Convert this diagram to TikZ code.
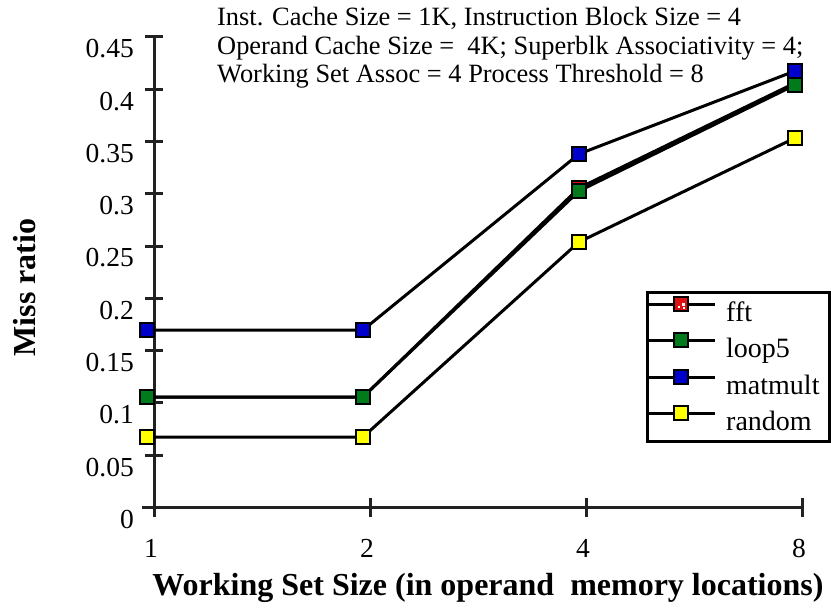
\documentclass[tikz,border=0pt]{standalone}
\usepackage{fontspec}
\setmainfont{Liberation Serif}
\definecolor{axisgray}{HTML}{222222}
\definecolor{mblue}{HTML}{0000CC}
\definecolor{mgreen}{HTML}{007A1A}
\definecolor{myellow}{HTML}{FFFF00}
\definecolor{mred}{HTML}{DD1111}
\begin{document}
\begin{tikzpicture}[x=1pt,y=-1pt,
  axisline/.style={draw=axisgray,line width=3pt},
  series/.style={draw=black,line width=3pt},
  marker/.style={draw=black,line width=1.8pt,minimum size=14.5pt,inner sep=0pt,rectangle},
  bluem/.style={marker,fill=mblue},
  greenm/.style={marker,fill=mgreen},
  yellowm/.style={marker,fill=myellow},
  fftm/.style={marker,fill=mred,path picture={
     \fill[white] ([shift={(1,-1)}]path picture bounding box.center) rectangle +(3,3);
     \fill[white] ([shift={(-3,2)}]path picture bounding box.center) rectangle +(2,2);
     \fill[white] ([shift={(2,3)}]path picture bounding box.center) rectangle +(2,2);}},
  ticklab/.style={inner sep=0pt,font=\fontsize{27.5}{32}\selectfont},
  titlelab/.style={inner sep=0pt,font=\fontsize{26.4}{30}\selectfont,anchor=base west},
  axtitle/.style={inner sep=0pt,font=\fontsize{32}{36}\selectfont\bfseries},
  legtext/.style={inner sep=0pt,font=\fontsize{28}{32}\selectfont,anchor=base west}
]
\useasboundingbox (0,0) rectangle (831,610);
\fill[white] (0,0) rectangle (831,610);

% axes
\draw[axisline] (154,37) -- (154,515);
\draw[axisline] (142,507.5) -- (802,507.5);
\foreach \i/\lab in {0/0,1/0.05,2/0.1,3/0.15,4/0.2,5/0.25,6/0.3,7/0.35,8/0.4,9/0.45}{
  \pgfmathsetmacro{\yy}{507.5-\i*52.3}
  \draw[axisline] (145,\yy) -- (163,\yy);
  \node[ticklab,anchor=east] at (134,\yy+12) {\lab};
}
\foreach \xx/\lab in {154/1,370/2,586/4,802/8}{
  \draw[axisline] (\xx,498) -- (\xx,517);
  \node[ticklab] at (\xx-3,548) {\lab};
}

% titles
\node[titlelab] (t1) at (217,26) {Inst. Cache Size = 1K, Instruction Block Size = 4};
\node[titlelab] (t2) at (217,55) {Operand Cache Size =\ \ 4K; Superblk Associativity = 4;};
\node[titlelab] (t3) at (217,83) {Working Set Assoc = 4 Process Threshold = 8};
\node[axtitle,rotate=90] (ytitle) at (25,287.5) {Miss ratio};
\node[axtitle,anchor=base] (xtitle) at (488,595) {Working Set Size (in operand\ \ memory locations)};

% series: fft
\node[fftm] (f1) at (147,397) {};
\node[fftm] (f2) at (363,397) {};
\node[fftm] (f3) at (579,188) {};
\node[fftm] (f4) at (795,83) {};
% loop5
\node[greenm] (l1) at (147,397) {};
\node[greenm] (l2) at (363,397) {};
\node[greenm] (l3) at (579,191) {};
\node[greenm] (l4) at (795,85) {};
% matmult
\node[bluem] (m1) at (147,330) {};
\node[bluem] (m2) at (363,330) {};
\node[bluem] (m3) at (579,154) {};
\node[bluem] (m4) at (795,71) {};
% random
\node[yellowm] (r1) at (147,437) {};
\node[yellowm] (r2) at (363,437) {};
\node[yellowm] (r3) at (579,242) {};
\node[yellowm] (r4) at (795,138) {};

\draw[series] (f1.center) -- (f2.center) -- (f3.center) -- (f4.center);
\draw[series] (l1.center) -- (l2.center) -- (l3.center) -- (l4.center);
\draw[series] (m1.center) -- (m2.center) -- (m3.center) -- (m4.center);
\draw[series] (r1.center) -- (r2.center) -- (r3.center) -- (r4.center);
% redraw markers on top
\foreach \n/\s in {f3/fftm,f4/fftm,l1/greenm,l2/greenm,l3/greenm,l4/greenm,m1/bluem,m2/bluem,m3/bluem,m4/bluem,r1/yellowm,r2/yellowm,r3/yellowm,r4/yellowm}{
  \node[\s] at (\n.center) {};
}

% legend
\draw[black,line width=3pt,fill=white] (647,292) rectangle (829,441);
\foreach \yy/\s/\lab in {304/fftm/fft,340/greenm/loop5,377/bluem/matmult,413/yellowm/random}{
  \coordinate (la) at (649,\yy);
  \coordinate (lb) at (715,\yy);
  \draw[series] (la) -- (lb);
  \node[\s] at (681,\yy) {};
  \node[legtext] at (726,\yy+17.5) {\lab};
}
\end{tikzpicture}
\end{document}
